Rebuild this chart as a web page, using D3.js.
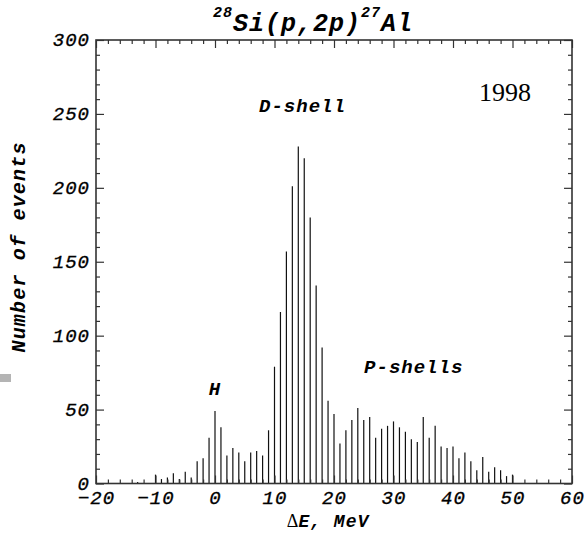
<!DOCTYPE html>
<html>
<head>
<meta charset="utf-8">
<script src="https://cdn.jsdelivr.net/npm/d3@7"></script>
<style>
body { margin: 0; background: #fff; }
text { font-family: "Liberation Mono", "DejaVu Sans Mono", monospace; fill: #000; }
</style>
</head>
<body>
<svg id="chart"></svg>
<script>
var w = 586, h = 534;

// energy bins (MeV) and counts
var energies = [-13, -12, -11, -10, -9, -8, -7, -6, -5, -4, -3, -2, -1,
    0, 1, 2, 3, 4, 5, 6, 7, 8, 9, 10, 11, 12, 13, 14, 15, 16, 17, 18, 19,
    20, 21, 22, 23, 24, 25, 26, 27, 28, 29, 30, 31, 32, 33, 34, 35, 36, 37,
    38, 39, 40, 41, 42, 43, 44, 45, 46, 47, 48, 49, 50];
var counts = [1, 0, 0, 6, 3, 4, 7, 3, 8, 4, 15, 17, 31,
    49, 38, 19, 24, 21, 15, 21, 22, 19, 36, 79, 116, 157, 201, 228, 220, 180, 134, 92, 56,
    47, 27, 36, 43, 51, 43, 45, 31, 37, 39, 42, 38, 35, 30, 28, 45, 31, 39,
    25, 24, 25, 17, 21, 15, 9, 18, 8, 11, 9, 5, 6];

var xMajor = [-20, -10, 0, 10, 20, 30, 40, 50, 60];
var xMinor = [-18, -16, -14, -12, -8, -6, -4, -2, 2, 4, 6, 8, 12, 14, 16, 18,
    22, 24, 26, 28, 32, 34, 36, 38, 42, 44, 46, 48, 52, 54, 56, 58];
var yMajor = [0, 50, 100, 150, 200, 250, 300];
var yMinor = [10, 20, 30, 40, 60, 70, 80, 90, 110, 120, 130, 140, 160, 170, 180, 190,
    210, 220, 230, 240, 260, 270, 280, 290];

var notes = [
    {text: "D-shell", x: 14.7, y: 251},
    {text: "H", x: 0, y: 60},
    {text: "P-shells", x: 33.4, y: 75}
];

var svg = d3.select("#chart")
    .attr("width", w)
    .attr("height", h)

var x = d3.scaleLinear().domain([-20, 60]).range([96, 572]);
var y = d3.scaleLinear().domain([0, 300]).range([483.5, 40]);

// grey mark at the left edge of the scan
svg.append("rect")
    .attr("x", 0).attr("y", 374)
    .attr("width", 11).attr("height", 8)
    .style("fill", "#b4b4b4")

// histogram spikes
svg.append("g").selectAll("line")
    .data(energies)
    .enter()
    .append("line")
    .attr("x1", function(d) { return x(d); })
    .attr("x2", function(d) { return x(d); })
    .attr("y1", y(0))
    .attr("y2", function(d, i) { return y(counts[i]); })
    .style("stroke", "#111")
    .style("stroke-width", 1.2)

function ticks(axis, pos) {
    var g = svg.append("g")
        .attr("transform", pos)
        .call(axis)
    g.select(".domain").remove()
    g.selectAll(".tick line").style("stroke", "#333").style("stroke-width", 1.2)
    return g
}

// major + minor ticks on all four sides, pointing inward
ticks(d3.axisBottom(x).tickValues(xMajor).tickSize(-8).tickFormat(""), "translate(0," + y(0) + ")")
ticks(d3.axisBottom(x).tickValues(xMinor).tickSize(-4).tickFormat(""), "translate(0," + y(0) + ")")
ticks(d3.axisTop(x).tickValues(xMajor).tickSize(-8).tickFormat(""), "translate(0," + y(300) + ")")
ticks(d3.axisTop(x).tickValues(xMinor).tickSize(-4).tickFormat(""), "translate(0," + y(300) + ")")
ticks(d3.axisLeft(y).tickValues(yMajor).tickSize(-8).tickFormat(""), "translate(" + x(-20) + ",0)")
ticks(d3.axisLeft(y).tickValues(yMinor).tickSize(-4).tickFormat(""), "translate(" + x(-20) + ",0)")
ticks(d3.axisRight(y).tickValues(yMajor).tickSize(-8).tickFormat(""), "translate(" + x(60) + ",0)")
ticks(d3.axisRight(y).tickValues(yMinor).tickSize(-4).tickFormat(""), "translate(" + x(60) + ",0)")

// frame
svg.append("rect")
    .attr("x", x(-20)).attr("y", y(300))
    .attr("width", x(60) - x(-20)).attr("height", y(0) - y(300))
    .style("fill", "none")
    .style("stroke", "#333")
    .style("stroke-width", 1.6)

// tick labels
var xl = ticks(d3.axisBottom(x).tickValues(xMajor).tickSize(0).tickPadding(11), "translate(0," + y(0) + ")")
xl.selectAll("text")
    .style("font-family", "Liberation Mono")
    .style("font-style", "italic")
    .style("font-size", "19px")
    .style("letter-spacing", "1px")
    .style("stroke", "#000")
    .style("stroke-width", 0.35)
    .attr("dy", "0.5em")

var yl = ticks(d3.axisLeft(y).tickValues(yMajor).tickSize(0).tickPadding(6), "translate(" + x(-20) + ",0)")
yl.selectAll("text")
    .style("font-family", "Liberation Mono")
    .style("font-style", "italic")
    .style("font-size", "19px")
    .style("letter-spacing", "1px")
    .style("stroke", "#000")
    .style("stroke-width", 0.35)
    .attr("dy", "0.3em")

// title
var title = svg.append("text")
    .attr("x", 213).attr("y", 31)
    .style("font-weight", "bold")
    .style("font-style", "italic")
    .style("letter-spacing", "1px")
title.append("tspan").attr("dy", -14).style("font-size", "15px").text("28")
title.append("tspan").attr("dy", 14).style("font-size", "25px").text("Si(p,2p)")
title.append("tspan").attr("dy", -14).style("font-size", "15px").text("27")
title.append("tspan").attr("dy", 14).style("font-size", "25px").text("Al")

// peak annotations
svg.selectAll(".note")
    .data(notes)
    .enter()
    .append("text")
    .attr("class", "note")
    .attr("x", function(d) { return x(d.x); })
    .attr("y", function(d) { return y(d.y); })
    .attr("text-anchor", "middle")
    .style("font-weight", "bold")
    .style("font-style", "italic")
    .style("font-size", "19px")
    .style("letter-spacing", "1px")
    .text(function(d) { return d.text; })

svg.append("text")
    .attr("x", 505).attr("y", 101)
    .attr("text-anchor", "middle")
    .style("font-family", "'Liberation Serif', 'Times New Roman', serif")
    .style("font-size", "26px")
    .text("1998")

// axis titles
var xt = svg.append("text")
    .attr("x", x(19)).attr("y", 527)
    .attr("text-anchor", "middle")
    .style("font-size", "18px")
xt.append("tspan").style("font-family", "'Liberation Serif', serif").text("\u0394")
xt.append("tspan")
    .style("font-weight", "bold").style("font-style", "italic")
    .style("letter-spacing", "1px")
    .text("E, MeV")

svg.append("text")
    .attr("transform", "translate(25," + y(160) + ") rotate(-90)")
    .attr("text-anchor", "middle")
    .style("font-weight", "bold")
    .style("font-style", "italic")
    .style("font-size", "20px")
    .style("letter-spacing", "1.2px")
    .text("Number of events")
</script>
</body>
</html>
